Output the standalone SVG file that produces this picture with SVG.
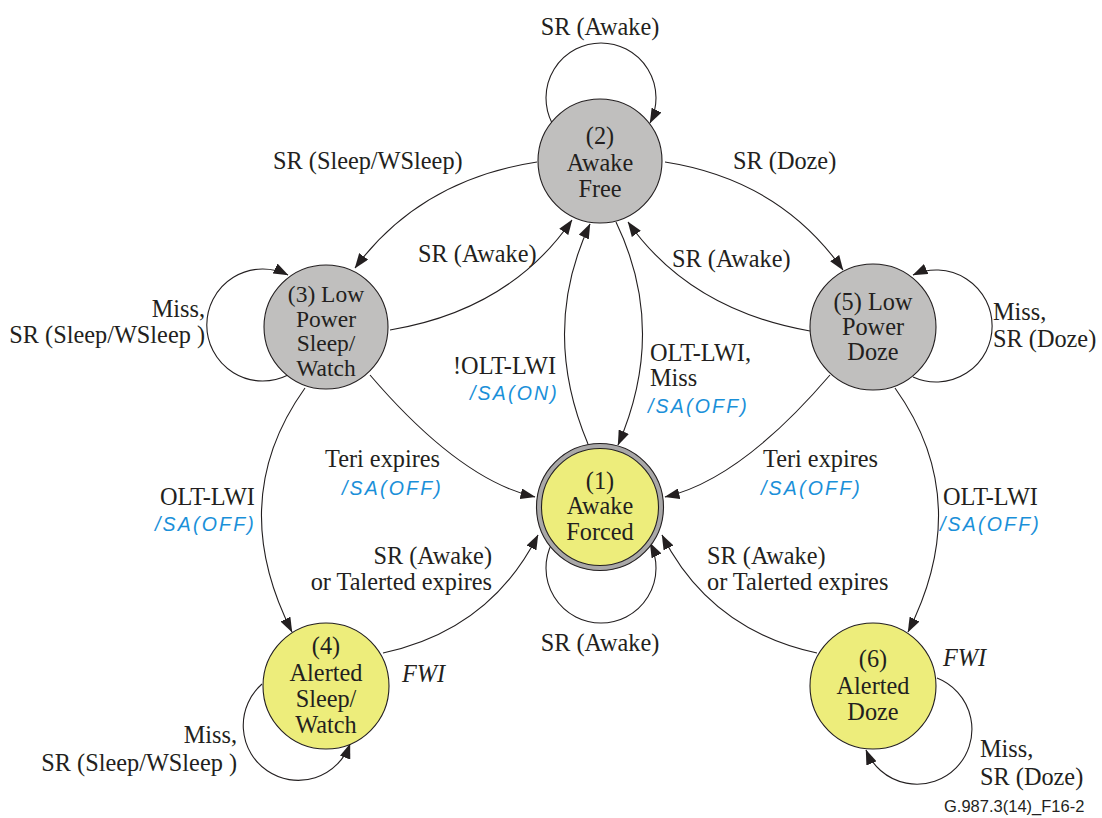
<svg xmlns="http://www.w3.org/2000/svg" width="1102" height="818" viewBox="0 0 1102 818">
<style>
.t{font-family:"Liberation Serif","Times New Roman",serif;font-size:24.3px;fill:#231f20}
.s{font-size:23.5px}
.c{text-anchor:middle}
.e{text-anchor:end}
.b{font-family:"Liberation Sans",Arial,sans-serif;font-size:19.5px;font-style:italic;letter-spacing:2.2px;fill:#1a90d9}
.i{font-style:italic}
.g{fill:#c0bfbe;stroke:#231f20;stroke-width:1.1}
.y{fill:#eded7b;stroke:#231f20;stroke-width:1.1}
.ln{fill:none;stroke:#231f20;stroke-width:1.1;marker-end:url(#ah)}
.f{font-family:"Liberation Sans",Arial,sans-serif;font-size:16.5px;fill:#231f20}
</style>
<defs>
<marker id="ah" viewBox="0 0 15 11" refX="14.5" refY="5.5" markerWidth="15" markerHeight="11" markerUnits="userSpaceOnUse" orient="auto">
<path d="M0,0 L15,5.5 L0,11 z" fill="#231f20"/>
</marker>
</defs>
<rect width="1102" height="818" fill="#ffffff"/>
<g id="connectors">
<path class="ln" d="M552,123 A55,55 0 1 1 650,123"/>
<path class="ln" d="M537,162 Q420,180 355,268"/>
<path class="ln" d="M390,330 Q510,310 572,220"/>
<path class="ln" d="M665,162 Q780,180 843,270"/>
<path class="ln" d="M810,331 Q690,310 628,222"/>
<path class="ln" d="M588,444 Q540,330 590,224"/>
<path class="ln" d="M616,222 Q668,330 618,445"/>
<path class="ln" d="M370,375 Q460,480 535,497"/>
<path class="ln" d="M830,375 Q740,480 665,497"/>
<path class="ln" d="M305,388 Q225,500 292,632"/>
<path class="ln" d="M895,388 Q975,500 908,632"/>
<path class="ln" d="M383,653 Q490,630 538,535"/>
<path class="ln" d="M817,653 Q710,630 662,535"/>
<path class="ln" d="M552,543 A55,55 0 1 0 650,543"/>
<path class="ln" d="M288,375 A56,56 0 1 1 288,275"/>
<path class="ln" d="M913,377 A56,56 0 1 0 913,275"/>
<path class="ln" d="M262,684 A55,55 0 1 0 350,744"/>
<path class="ln" d="M937,678 A55,55 0 1 1 866,750"/>
</g>
<g id="labels">
<text class="t c" x="600" y="35">SR (Awake)</text>
<text class="t" x="273" y="169">SR (Sleep/WSleep)</text>
<text class="t" x="733" y="169">SR (Doze)</text>
<text class="t" x="418" y="262">SR (Awake)</text>
<text class="t" x="672" y="267">SR (Awake)</text>
<text class="t e" x="205" y="317">Miss,</text>
<text class="t e" x="205" y="343">SR (Sleep/WSleep )</text>
<text class="t" x="993" y="320">Miss,</text>
<text class="t" x="993" y="347">SR (Doze)</text>
<text class="t" x="453" y="374">!OLT-LWI</text>
<text class="b" x="470" y="400">/SA(ON)</text>
<text class="t" x="650" y="361">OLT-LWI,</text>
<text class="t" x="650" y="386">Miss</text>
<text class="b" x="648" y="413">/SA(OFF)</text>
<text class="t" x="325" y="467">Teri expires</text>
<text class="b" x="342" y="495">/SA(OFF)</text>
<text class="t" x="763" y="467">Teri expires</text>
<text class="b" x="761" y="495">/SA(OFF)</text>
<text class="t" x="160" y="505">OLT-LWI</text>
<text class="b" x="155" y="531">/SA(OFF)</text>
<text class="t" x="943" y="505">OLT-LWI</text>
<text class="b" x="940" y="531">/SA(OFF)</text>
<text class="t e" x="492" y="564">SR (Awake)</text>
<text class="t e" x="492" y="590">or Talerted expires</text>
<text class="t" x="707" y="564">SR (Awake)</text>
<text class="t" x="707" y="590">or Talerted expires</text>
<text class="t c" x="600" y="651">SR (Awake)</text>
<text class="t i" x="402" y="682">FWI</text>
<text class="t i" x="943" y="666">FWI</text>
<text class="t e" x="237" y="743">Miss,</text>
<text class="t e" x="237" y="771">SR (Sleep/WSleep )</text>
<text class="t" x="980" y="757">Miss,</text>
<text class="t" x="980" y="785">SR (Doze)</text>
<text class="f" x="944" y="812">G.987.3(14)_F16-2</text>
</g>
<g id="node2">
<circle class="g" cx="600" cy="161" r="62"/>
<text class="t c" x="600" y="144">(2)</text>
<text class="t c" x="600" y="171">Awake</text>
<text class="t c" x="600" y="197">Free</text>
</g>
<g id="node3">
<circle class="g" cx="326" cy="327" r="62"/>
<text class="t s c" x="326" y="302">(3) Low</text>
<text class="t s c" x="326" y="326.5">Power</text>
<text class="t s c" x="326" y="351">Sleep/</text>
<text class="t s c" x="326" y="375.5">Watch</text>
</g>
<g id="node5">
<circle class="g" cx="873" cy="327" r="63"/>
<text class="t c" x="873" y="310">(5) Low</text>
<text class="t c" x="873" y="335">Power</text>
<text class="t c" x="873" y="360">Doze</text>
</g>
<g id="node1">
<circle cx="600" cy="507" r="61" fill="none" stroke="#a9a8a8" stroke-width="5"/>
<circle cx="600" cy="507" r="63.5" fill="none" stroke="#231f20" stroke-width="1.1"/>
<circle class="y" cx="600" cy="507" r="58.5"/>
<text class="t c" x="600" y="489">(1)</text>
<text class="t c" x="600" y="514">Awake</text>
<text class="t c" x="600" y="540">Forced</text>
</g>
<g id="node4">
<circle class="y" cx="326" cy="686" r="63"/>
<text class="t c" x="326" y="654">(4)</text>
<text class="t c" x="326" y="681">Alerted</text>
<text class="t c" x="326" y="707">Sleep/</text>
<text class="t c" x="326" y="733">Watch</text>
</g>
<g id="node6">
<circle class="y" cx="873" cy="686" r="63"/>
<text class="t c" x="873" y="667">(6)</text>
<text class="t c" x="873" y="694">Alerted</text>
<text class="t c" x="873" y="720">Doze</text>
</g>
</svg>
